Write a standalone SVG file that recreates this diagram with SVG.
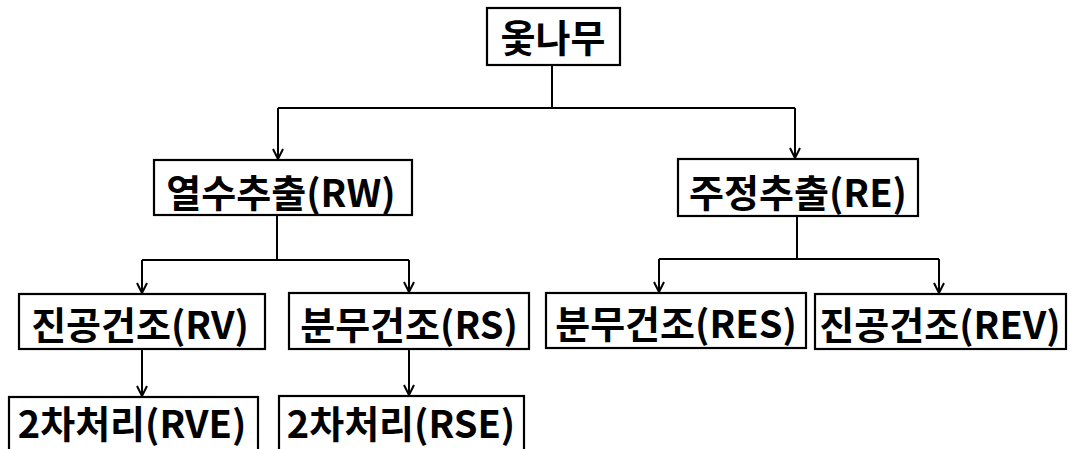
<svg xmlns="http://www.w3.org/2000/svg" width="1074" height="449" viewBox="0 0 1074 449">
<style>
.box{fill:#fff;stroke:#000;stroke-width:2.2}
.t{font-family:"Noto Sans CJK KR","Liberation Sans",sans-serif;font-weight:bold;font-size:38px;fill:#000;text-anchor:middle}
.c{fill:none;stroke:#000;stroke-width:2}
</style>
<defs>
<marker id="ah" markerWidth="12" markerHeight="12" viewBox="0 0 12 12" refX="11" refY="6" orient="auto" markerUnits="userSpaceOnUse">
<path d="M1,1 L11,6 L1,11" fill="none" stroke="#000" stroke-width="2"/>
</marker>
</defs>
<rect width="1074" height="449" fill="#fff"/>
<g id="connectors">
<path class="c" d="M552,65 V108"/>
<path class="c" d="M278,108 H795"/>
<path class="c" d="M278,108 V159" marker-end="url(#ah)"/>
<path class="c" d="M795,108 V158" marker-end="url(#ah)"/>
<path class="c" d="M277,215 V260"/>
<path class="c" d="M142,260 H409"/>
<path class="c" d="M142,260 V293" marker-end="url(#ah)"/>
<path class="c" d="M409,260 V292" marker-end="url(#ah)"/>
<path class="c" d="M797,216 V259"/>
<path class="c" d="M659,259 H939"/>
<path class="c" d="M659,259 V292" marker-end="url(#ah)"/>
<path class="c" d="M939,259 V293" marker-end="url(#ah)"/>
<path class="c" d="M142,349 V396" marker-end="url(#ah)"/>
<path class="c" d="M409,349 V395" marker-end="url(#ah)"/>
</g>
<g id="n-root"><rect class="box" x="487" y="8" width="133" height="57"/><text class="t" x="553" y="52">옻나무</text></g>
<g id="n-rw"><rect class="box" x="154" y="160" width="258" height="55"/><text class="t" x="281" y="207">열수추출(RW)</text></g>
<g id="n-re"><rect class="box" x="678" y="159" width="240" height="57"/><text class="t" x="798" y="207">주정추출(RE)</text></g>
<g id="n-rv"><rect class="box" x="19" y="294" width="246" height="55"/><text class="t" x="140" y="339">진공건조(RV)</text></g>
<g id="n-rs"><rect class="box" x="289" y="293" width="240" height="56"/><text class="t" x="409" y="339">분무건조(RS)</text></g>
<g id="n-res"><rect class="box" x="546" y="293" width="260" height="55"/><text class="t" x="676" y="338">분무건조(RES)</text></g>
<g id="n-rev"><rect class="box" x="815" y="294" width="251" height="55"/><text class="t" x="940" y="339">진공건조(REV)</text></g>
<g id="n-rve"><rect class="box" x="9" y="397" width="249" height="60"/><text class="t" x="132" y="438">2차처리(RVE)</text></g>
<g id="n-rse"><rect class="box" x="279" y="396" width="245" height="60"/><text class="t" x="401" y="438">2차처리(RSE)</text></g>
</svg>
